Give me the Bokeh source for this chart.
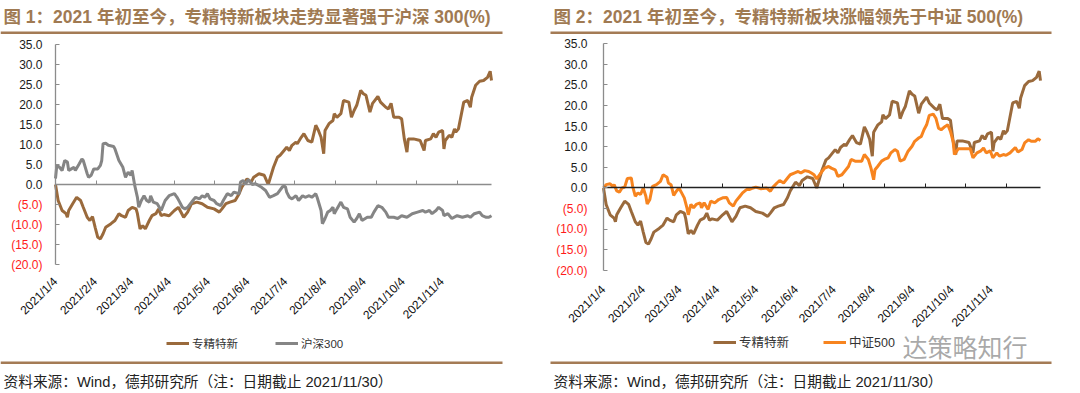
import math
from bokeh.plotting import figure
from bokeh.models import (FixedTicker, LinearAxis, Label, BoxAnnotation, Legend,
                          LegendItem, Range1d)
from bokeh.layouts import row
from bokeh.embed import file_html
from bokeh.resources import INLINE

# ---------------- data (days since 2021/1/4, cumulative % change) ----------------
TICK_DAYS = [0, 31, 59, 90, 120, 151, 181, 212, 243, 273, 304]          # month tick marks
LABEL_DAYS = [0, 30, 57.5, 86, 115.5, 145.5, 174, 203.5, 233.5, 263, 292.5]  # where labels sit
TICK_LABELS = ["2021/1/4", "2021/2/4", "2021/3/4", "2021/4/4", "2021/5/4", "2021/6/4",
               "2021/7/4", "2021/8/4", "2021/9/4", "2021/10/4", "2021/11/4"]
Y_TICKS = [-20, -15, -10, -5, 0, 5, 10, 15, 20, 25, 30, 35]

ZJTX_DAYS = [0, 2, 5, 8, 9, 10, 13, 16, 19, 21, 24, 26, 28, 30, 32, 34, 36, 38, 42, 45,
             48, 50, 53, 55, 58, 61, 62, 64, 66, 68, 71, 73, 76, 78, 80, 82, 86, 90, 93, 97,
             100, 103, 107, 111, 115, 120, 124, 126, 129, 132, 136, 139, 141, 145, 148, 150,
             154, 158, 161, 165, 168, 170, 173, 175, 177, 179, 182, 183, 186, 188, 191, 194,
             197, 199, 201, 203, 204, 207, 210, 211, 213, 216, 218, 222, 224, 226, 228, 231,
             233, 235, 238, 240, 244, 246, 250, 252, 254, 256, 260, 262, 264, 266, 267, 271,
             276, 279, 280, 284, 286, 288, 290, 293, 294, 295, 298, 300, 302, 303, 305, 309,
             312, 314, 315, 318, 321, 324, 327, 329, 330]
ZJTX_VALS = [0.0, -4.0, -6.5, -7.3, -8.2, -6.5, -4.8, -3.2, -4.0, -5.7, -8.2, -9.0, -8.0,
             -10.7, -13.2, -13.6, -12.3, -10.7, -9.8, -9.0, -7.3, -7.8, -8.2, -6.5, -5.7,
             -6.1, -7.3, -11.1, -10.3, -11.1, -9.0, -7.8, -7.3, -6.1, -7.8, -7.5, -7.8, -6.5,
             -5.7, -8.2, -6.9, -4.8, -4.4, -4.8, -5.7, -6.1, -6.9, -6.1, -4.8, -4.4, -4.0,
             -2.3, -0.7, 1.4, 0.6, 1.8, 2.7, 2.3, 0.0, 4.3, 6.8, 7.3, 8.5, 9.3, 8.5, 9.8,
             10.6, 10.2, 11.8, 12.7, 11.0, 10.6, 14.8, 13.5, 11.8, 7.7, 13.5, 15.2, 16.0,
             17.7, 16.8, 17.7, 21.0, 20.6, 16.8, 18.5, 19.8, 23.5, 22.7, 22.3, 18.1, 20.3,
             22.0, 20.6, 19.3, 18.9, 20.3, 16.8, 16.8, 16.4, 11.4, 8.1, 11.4, 11.4, 11.0,
             8.5, 11.0, 11.4, 12.7, 11.8, 13.1, 13.5, 8.9, 11.0, 12.3, 11.8, 13.9, 13.1,
             13.9, 20.6, 21.0, 19.3, 21.8, 24.8, 25.8, 26.0, 26.8, 28.3, 26.0]

HS300_DAYS = [0, 1, 3, 5, 7, 9, 10, 12, 14, 15, 18, 20, 21, 24, 25, 27, 29, 32, 34, 35, 36,
              38, 40, 44, 45, 48, 51, 53, 55, 57, 58, 60, 62, 63, 65, 67, 69, 71, 72, 74, 77,
              80, 82, 83, 86, 90, 92, 94, 96, 98, 100, 104, 106, 109, 111, 113, 115, 117, 120,
              122, 125, 127, 130, 133, 135, 139, 140, 142, 144, 146, 149, 151, 154, 156, 159,
              162, 165, 168, 172, 174, 175, 177, 179, 182, 184, 187, 189, 192, 194, 197, 198,
              201, 202, 204, 206, 208, 210, 211, 213, 216, 218, 221, 223, 226, 228, 230, 232,
              236, 239, 241, 244, 247, 250, 252, 256, 259, 262, 266, 270, 274, 278, 280, 283,
              285, 288, 290, 293, 294, 297, 300, 304, 308, 312, 314, 317, 321, 323, 326, 328,
              330]
HS300_VALS = [1.5, 4.8, 4.3, 3.5, 6.0, 5.6, 3.5, 3.9, 4.3, 3.5, 5.2, 6.4, 6.0, 2.7, 1.8,
              2.3, 3.9, 3.9, 4.8, 6.0, 10.2, 10.3, 9.8, 9.5, 8.9, 6.0, 4.3, 1.8, 3.1, 2.3,
              3.5, -0.3, -3.2, -5.7, -4.0, -2.8, -4.0, -4.4, -2.8, -4.4, -4.8, -6.5, -4.8,
              -4.0, -2.8, -2.3, -3.2, -4.4, -5.7, -6.1, -5.7, -4.0, -3.2, -3.6, -2.8, -3.2,
              -2.3, -3.6, -4.0, -4.8, -5.3, -4.0, -2.3, -2.8, -1.9, -2.3, 0.6, 1.0, 0.2, 1.2,
              0.0, 0.2, -0.3, -0.7, -1.5, -3.2, -2.8, -2.3, -0.5, -0.5, -1.9, -3.2, -3.6,
              -2.8, -4.0, -2.8, -3.2, -2.8, -3.2, -2.3, -3.2, -6.5, -9.8, -8.5, -6.9, -6.5,
              -5.7, -7.3, -6.1, -4.4, -5.7, -6.1, -8.2, -9.4, -8.5, -7.3, -9.0, -8.2, -8.2,
              -6.9, -5.3, -5.7, -6.9, -8.2, -8.2, -8.5, -7.8, -8.2, -7.3, -6.9, -6.5, -6.9,
              -6.5, -7.3, -6.5, -5.7, -6.5, -7.8, -7.3, -8.5, -7.8, -8.2, -7.8, -8.2, -7.3,
              -6.9, -7.8, -8.2, -8.2, -7.8]

ZZ500_DAYS = [0, 2, 5, 7, 8, 10, 12, 14, 16, 18, 21, 22, 24, 26, 28, 30, 32, 33, 35, 37, 40,
              43, 45, 48, 49, 51, 53, 55, 57, 59, 61, 63, 64, 66, 68, 70, 73, 74, 76, 79, 81,
              84, 87, 90, 93, 95, 98, 100, 103, 105, 108, 110, 113, 115, 119, 123, 126, 128,
              131, 133, 136, 139, 141, 144, 147, 149, 152, 155, 157, 159, 161, 165, 167, 170,
              172, 175, 177, 180, 182, 185, 187, 190, 192, 195, 197, 200, 202, 204, 205, 207,
              210, 212, 215, 217, 220, 222, 224, 227, 230, 233, 235, 238, 240, 242, 244, 246,
              249, 251, 253, 255, 258, 260, 262, 264, 265, 268, 273, 277, 279, 282, 285, 287,
              289, 292, 294, 297, 299, 302, 304, 307, 311, 313, 316, 318, 321, 323, 326, 328,
              330]
ZZ500_VALS = [0.0, 0.8, 1.0, 0.4, 0.8, -0.7, -1.0, 0.0, 0.2, 2.3, 2.4, 0.4, -2.0, -1.2,
              -1.6, 0.0, -2.0, -3.9, -2.8, 0.4, 0.8, 1.6, 3.2, 2.6, 1.2, 0.8, -1.8, -0.8,
              0.0, -1.2, -2.4, -4.8, -6.5, -4.0, -4.8, -4.0, -3.6, -4.8, -3.6, -5.2, -3.2,
              -3.6, -2.8, -2.4, -2.3, -3.6, -4.4, -3.2, -2.0, -1.2, -0.4, -0.4, 0.0, 0.2,
              -0.2, 0.0, -0.8, 0.2, 1.2, 1.8, 1.2, 2.4, 3.2, 3.6, 4.0, 3.6, 4.2, 4.0, 3.6,
              3.2, 2.2, 4.0, 4.8, 5.2, 4.8, 4.4, 2.8, 3.2, 4.0, 5.2, 6.9, 6.5, 6.5, 6.5, 8.1,
              6.9, 4.8, 2.0, 4.4, 5.2, 6.5, 6.9, 7.3, 8.5, 9.3, 8.9, 6.5, 6.9, 8.9, 10.1,
              11.3, 12.1, 12.5, 14.1, 15.3, 17.6, 17.9, 16.9, 14.5, 14.1, 14.9, 15.3, 13.7,
              11.3, 8.1, 9.5, 9.5, 9.5, 7.3, 8.5, 9.0, 9.7, 8.5, 9.0, 7.3, 8.5, 7.7, 8.1,
              7.9, 8.5, 9.8, 8.7, 9.3, 10.9, 11.7, 11.3, 11.3, 11.9, 11.5]

TITLE_1 = "图 1：2021 年初至今，专精特新板块走势显著强于沪深 300(%)"
TITLE_2 = "图 2：2021 年初至今，专精特新板块涨幅领先于中证 500(%)"
SOURCE = "资料来源：Wind，德邦研究所（注：日期截止 2021/11/30）"
NAME_ZJ, NAME_HS, NAME_ZZ = "专精特新", "沪深300", "中证500"

# ---------------- style ----------------
BROWN = "#9A6A3C"
GRAY = "#858585"
ORANGE = "#F7841F"
RULE = "#A47B55"
TITLE_COLOR = "#A07A52"
FONT = "Liberation Sans, Noto Sans CJK SC"
W, H = 540, 393
X_END = 330


def y_label(v):
    return f"{v:.1f}" if v >= 0 else f"({abs(v):.1f})"


def panel(cfg):
    # pixel box of the data area (day 0..330, -20..35) within this figure
    bl, fr, bt, fb = cfg["frame"]
    kx = (fr - bl) / X_END
    ky = (fb - bt) / 55.0

    def dx(fx):
        return (fx - bl) / kx

    def dy(fy):
        return 35 - (fy - bt) / ky

    p = figure(width=W, height=H, x_range=Range1d(dx(0), dx(W)), y_range=Range1d(dy(H), dy(0)),
               output_backend="svg", toolbar_location=None,
               x_axis_type=None, y_axis_type=None, min_border=0)
    p.title.visible = False
    p.outline_line_color = None
    p.background_fill_color = "white"
    p.border_fill_color = "white"

    # date labels along the bottom of the data area
    xb = LinearAxis(fixed_location=-20, ticker=FixedTicker(ticks=LABEL_DAYS),
                    major_label_overrides=dict(zip(LABEL_DAYS, TICK_LABELS)),
                    major_label_orientation=math.pi / 4,
                    axis_line_color=None, major_tick_line_color=None,
                    minor_tick_line_color=None, major_tick_out=0, major_tick_in=0,
                    major_label_standoff=cfg["xstand"],
                    major_label_text_font=FONT, major_label_text_font_size="12px",
                    major_label_text_color="#111111")
    p.add_layout(xb, "below")

    # zero line with month ticks
    x0 = LinearAxis(fixed_location=0, bounds=(0, X_END), ticker=FixedTicker(ticks=TICK_DAYS),
                    major_label_overrides={d: "" for d in TICK_DAYS},
                    axis_line_color=cfg["zero_color"], axis_line_width=1.3,
                    major_tick_line_color=cfg["zero_color"], major_tick_in=4,
                    major_tick_out=0, minor_tick_line_color=None)
    p.add_layout(x0, "below")

    # y axis: line, ticks and non-negative labels
    ya = LinearAxis(fixed_location=0, bounds=(-20, 35), ticker=FixedTicker(ticks=Y_TICKS),
                    major_label_overrides={v: (y_label(v) if v >= 0 else "") for v in Y_TICKS},
                    axis_line_color="#8C8C8C", axis_line_width=1.3,
                    major_tick_line_color="#8C8C8C", major_tick_in=4, major_tick_out=0,
                    minor_tick_line_color=None, major_label_standoff=cfg["ystand"],
                    major_label_text_font=FONT, major_label_text_font_size="12px",
                    major_label_text_color="#1A1A1A")
    p.add_layout(ya, "left")
    neg = [v for v in Y_TICKS if v < 0]
    yn = LinearAxis(fixed_location=0, ticker=FixedTicker(ticks=neg),
                    major_label_overrides={v: y_label(v) for v in neg},
                    axis_line_color=None, major_tick_line_color=None,
                    major_tick_in=0, major_tick_out=0, minor_tick_line_color=None,
                    major_label_standoff=cfg["ystand"],
                    major_label_text_font=FONT, major_label_text_font_size="12px",
                    major_label_text_color="#FF1A1A")
    p.add_layout(yn, "left")

    items = []
    for name, days, vals, color in cfg["series"]:
        r = p.line(days, vals, line_color=color, line_width=3)
        items.append(LegendItem(label=name, renderers=[r]))

    leg = Legend(items=items, orientation="horizontal", location=cfg["legend_loc"],
                 glyph_width=23, glyph_height=12, label_height=12, label_standoff=3,
                 spacing=cfg["legend_spacing"], padding=0, margin=0,
                 border_line_color=None, background_fill_alpha=0,
                 label_text_font=FONT, label_text_font_size=cfg["legend_fs"],
                 label_text_color="#333333")
    p.add_layout(leg, "center")

    p.add_layout(Label(x=dx(cfg["title_x"]), y=dy(16), text=cfg["title"], text_font=FONT,
                       text_font_size="17.5px", text_font_style="bold", text_color=TITLE_COLOR,
                       text_align="left", text_baseline="middle"))
    r0, r1 = cfg["rule_x"]
    for top in (31, 361):
        p.add_layout(BoxAnnotation(left=dx(r0), right=dx(r1), top=dy(top), bottom=dy(top + 2.5),
                                   fill_color=RULE, fill_alpha=1, line_color=None))
    p.add_layout(Label(x=dx(cfg["title_x"]), y=dy(381), text=SOURCE, text_font=FONT,
                       text_font_size="14.7px", text_color="#222222",
                       text_align="left", text_baseline="middle"))
    if cfg.get("watermark"):
        p.add_layout(Label(x=dx(362), y=dy(345), text=cfg["watermark"],
                           text_font="Noto Sans CJK SC", text_font_size="25px",
                           text_color="#9A9A9A", text_alpha=0.85,
                           text_align="left", text_baseline="middle"))
    return p


left_cfg = dict(frame=(55, 491, 44, 264), xstand=15, ystand=13, zero_color="#8C8C8C",
                series=[(NAME_ZJ, ZJTX_DAYS, ZJTX_VALS, BROWN),
                        (NAME_HS, HS300_DAYS, HS300_VALS, GRAY)],
                legend_loc=(166, 42), legend_spacing=37, legend_fs="11.5px",
                title=TITLE_1, title_x=3, rule_x=(0, 502))
right_cfg = dict(frame=(63, 500, 43, 270), xstand=17, ystand=16, zero_color="#222222",
                 series=[(NAME_ZJ, ZJTX_DAYS, ZJTX_VALS, BROWN),
                         (NAME_ZZ, ZZ500_DAYS, ZZ500_VALS, ORANGE)],
                 legend_loc=(173, 42), legend_spacing=34, legend_fs="12.5px",
                 title=TITLE_2, title_x=13, rule_x=(10, 511), watermark="达策略知行")

layout = row(panel(left_cfg), panel(right_cfg))
open("out.html", "w").write(file_html(layout, INLINE))
